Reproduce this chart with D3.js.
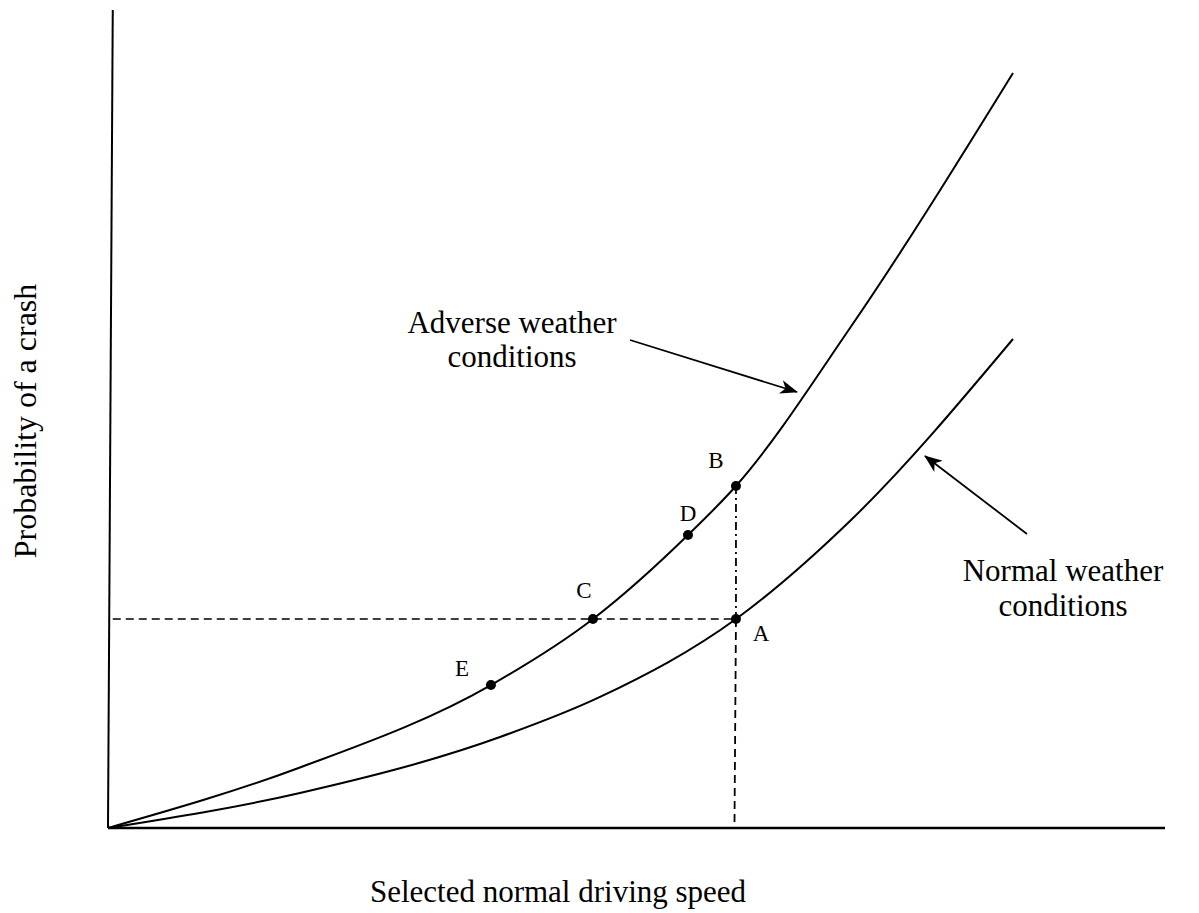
<!DOCTYPE html>
<html>
<head>
<meta charset="utf-8">
<script src="https://cdn.jsdelivr.net/npm/d3@7"></script>
<style>
  html, body { margin: 0; padding: 0; background: #fff; }
  svg { display: block; }
  text { font-family: "Liberation Serif", "Times New Roman", serif; fill: #000; }
</style>
</head>
<body>
<svg id="chart" width="1199" height="913"></svg>
<script>
// ---- Data (abstract units: speed 0..100, probability 0..100) ----
const adverseSpeed = [0, 18.16, 36.23, 45.88, 54.87, 59.41, 70.20, 85.62];
const adverseProb  = [0, 7.40, 17.48, 25.55, 35.82, 41.81, 61.12, 92.30];
const normalSpeed  = [0, 18.16, 37.09, 46.55, 59.41, 70.20, 85.62];
const normalProb   = [0, 4.28, 11.12, 16.02, 25.55, 37.53, 59.78];
const pointNames   = ["A", "B", "C", "D", "E"];
const pointSpeed   = [59.41, 59.41, 45.88, 54.87, 36.23];
const pointProb    = [25.55, 41.81, 25.55, 35.82, 17.48];
const xAxisTitle = "Selected normal driving speed";
const yAxisTitle = "Probability of a crash";
const adverseLabel = ["Adverse weather", "conditions"];
const normalLabel  = ["Normal weather", "conditions"];

const svg = d3.select("#chart");
const x = d3.scaleLinear().domain([0, 100]).range([108, 1165]);
const y = d3.scaleLinear().domain([0, 100]).range([828, 10]);

// arrow marker
const defs = svg.append("defs");
defs.append("marker")
  .attr("id", "arr").attr("viewBox", "0 -7 18 14")
  .attr("refX", 17).attr("refY", 0)
  .attr("markerWidth", 18).attr("markerHeight", 14)
  .attr("markerUnits", "userSpaceOnUse")
  .attr("orient", "auto")
  .append("path").attr("d", "M0,-7 L18,0 L0,7 L5,0 Z").attr("fill", "#000");

// axes
svg.append("line")
  .attr("x1", x(0)).attr("y1", y(0)).attr("x2", x(0.45)).attr("y2", y(100))
  .attr("stroke", "#000").attr("stroke-width", 2);
svg.append("line")
  .attr("x1", x(0)).attr("y1", y(0)).attr("x2", x(100)).attr("y2", y(0))
  .attr("stroke", "#000").attr("stroke-width", 2.5);

// curves
const line = d3.line().x(d => x(d[0])).y(d => y(d[1])).curve(d3.curveMonotoneX);
const adverse = adverseSpeed.map((s, i) => [s, adverseProb[i]]);
const normal = normalSpeed.map((s, i) => [s, normalProb[i]]);
svg.append("path").attr("d", line(adverse)).attr("fill", "none").attr("stroke", "#000").attr("stroke-width", 2);
svg.append("path").attr("d", line(normal)).attr("fill", "none").attr("stroke", "#000").attr("stroke-width", 2);

// guide lines
const A = 0, B = 1;
svg.append("line")
  .attr("x1", x(0.45)).attr("y1", y(pointProb[A])).attr("x2", x(pointSpeed[A])).attr("y2", y(pointProb[A]))
  .attr("stroke", "#000").attr("stroke-width", 1.5).attr("stroke-dasharray", "8,5");
svg.append("line")
  .attr("x1", x(pointSpeed[A])).attr("y1", y(pointProb[A])).attr("x2", x(pointSpeed[A]) - 1.5).attr("y2", y(0))
  .attr("stroke", "#000").attr("stroke-width", 1.8).attr("stroke-dasharray", "8,5");
svg.append("line")
  .attr("x1", x(pointSpeed[B])).attr("y1", y(pointProb[B])).attr("x2", x(pointSpeed[A])).attr("y2", y(pointProb[A]))
  .attr("stroke", "#000").attr("stroke-width", 1.8).attr("stroke-dasharray", "8,4,2,4");

// points
svg.selectAll("circle.pt").data(pointNames).join("circle")
  .attr("class", "pt")
  .attr("cx", (d, i) => x(pointSpeed[i])).attr("cy", (d, i) => y(pointProb[i]))
  .attr("r", 5).attr("fill", "#000");

// point labels
const labelOffsets = { A: [25, 14], B: [-20, -25], C: [-9, -29], D: [0, -21], E: [-29, -17] };
svg.selectAll("text.pl").data(pointNames).join("text")
  .attr("class", "pl")
  .attr("x", (d, i) => x(pointSpeed[i]) + labelOffsets[d][0])
  .attr("y", (d, i) => y(pointProb[i]) + labelOffsets[d][1])
  .attr("text-anchor", "middle").attr("dominant-baseline", "central")
  .attr("font-size", 23).text(d => d);

// annotations
function multiline(lines, cx, by, lh) {
  lines.forEach((t, i) => {
    svg.append("text").attr("x", cx).attr("y", by + i * lh)
      .attr("text-anchor", "middle").attr("font-size", 31).text(t);
  });
}
multiline(adverseLabel, 512, 333, 34);
multiline(normalLabel, 1063, 581, 35);

// arrows
svg.append("line").attr("x1", 630).attr("y1", 340).attr("x2", 797).attr("y2", 392)
  .attr("stroke", "#000").attr("stroke-width", 1.8).attr("marker-end", "url(#arr)");
svg.append("line").attr("x1", 1027).attr("y1", 534).attr("x2", 925).attr("y2", 456)
  .attr("stroke", "#000").attr("stroke-width", 1.8).attr("marker-end", "url(#arr)");

// axis titles
svg.append("text").attr("x", 558).attr("y", 902).attr("text-anchor", "middle")
  .attr("font-size", 31).text(xAxisTitle);
svg.append("text").attr("transform", "translate(36,421) rotate(-90)")
  .attr("text-anchor", "middle").attr("font-size", 32).text(yAxisTitle);
</script>
</body>
</html>
